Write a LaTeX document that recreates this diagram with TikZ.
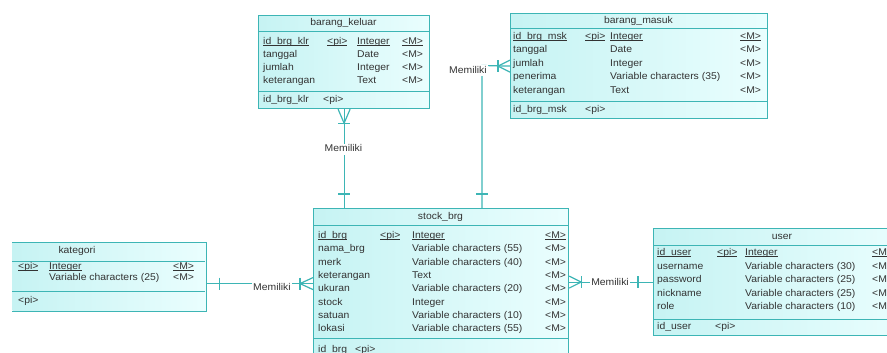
\documentclass[tikz,border=0pt]{standalone}
\usepackage{fontspec}
\setmainfont{Liberation Sans}[FakeStretch=1.06]
\definecolor{garis}{HTML}{3DB5B5}
\definecolor{isikiri}{HTML}{C6F3F3}
\definecolor{isikanan}{HTML}{EAFEFE}
\definecolor{tulisan}{HTML}{333333}
\newcommand{\gb}[1]{\setbox0\hbox{#1}\rlap{\rule[-1.3pt]{\wd0}{0.5pt}}\box0}
\tikzset{
  tabel/.style={draw=garis, line width=1.2pt, left color=isikiri, right color=isikanan, anchor=north west, inner sep=0pt},
  sekat/.style={draw=garis, line width=1pt},
  hub/.style={draw=garis, line width=1.2pt},
  isi/.style={anchor=west, inner sep=0pt, text height=7pt, text depth=2pt, text=tulisan, font=\fontsize{9.8}{11}\selectfont},
  judul/.style={isi, anchor=center},
  relasi/.style={judul, fill=white, inner sep=1pt}
}

\begin{document}
\begin{tikzpicture}[x=1pt, y=-1pt]
	\clip (0,0) rectangle (887,353);
	% tabel
	\node[tabel, minimum width=171pt, minimum height=93pt] (keluar) at (258,15) {};
	\node[tabel, minimum width=257pt, minimum height=105pt] (masuk) at (510,13) {};
	\node[tabel, minimum width=255pt, minimum height=160pt] (stok) at (313,208) {};
	\node[tabel, draw=none, minimum width=193pt, minimum height=68pt] (kat) at (12,242) {};
	\draw[sekat] (kat.north west) -- (kat.north east) -- (kat.south east) -- (kat.south west);
	\node[tabel, minimum width=258pt, minimum height=107pt] (user) at (653,228) {};
	% sekat
	\draw[sekat] (258,32) -- (429,32);
	\draw[sekat] (258,92) -- (429,92);
	\draw[sekat] (510,29) -- (767,29);
	\draw[sekat] (510,102) -- (767,102);
	\draw[sekat] (313,225) -- (568,225);
	\draw[sekat] (313,338) -- (568,338);
	\draw[sekat] (12,261) -- (205,261);
	\draw[sekat] (12,291) -- (205,291);
	\draw[sekat] (653,245.5) -- (911,245.5);
	\draw[sekat] (653,319) -- (911,319);

	% barang_keluar
	\node[judul] (kel-j) at (343.5,23) {barang\_keluar};
	\node[isi] (kel-pk) at (263,42) {\gb{id\_brg\_klr}};
	\node[isi] (kel-pi) at (327,42) {\gb{<pi>}};
	\node[isi] (kel-ti) at (357,42) {\gb{Integer}};
	\node[isi] (kel-m) at (402,42) {\gb{<M>}};
	\foreach \a/\b [count=\i] in {tanggal/Date, jumlah/Integer, keterangan/Text} {
		\node[isi] (kel-n\i) at (263,{42+13*\i}) {\a};
		\node[isi] (kel-t\i) at (357,{42+13*\i}) {\b};
		\node[isi] (kel-m\i) at (402,{42+13*\i}) {<M>};
	}
	\node[isi] (kel-k) at (263,100) {id\_brg\_klr};
	\node[isi] (kel-kp) at (323,100) {<pi>};

	% barang_masuk
	\node[judul] (msk-j) at (638.5,21) {barang\_masuk};
	\node[isi] (msk-pk) at (513,37) {\gb{id\_brg\_msk}};
	\node[isi] (msk-pi) at (585,37) {\gb{<pi>}};
	\node[isi] (msk-ti) at (610,37) {\gb{Integer}};
	\node[isi] (msk-m) at (740,37) {\gb{<M>}};
	\foreach \a/\b [count=\i] in {tanggal/Date, jumlah/Integer, penerima/Variable characters (35), keterangan/Text} {
		\node[isi] (msk-n\i) at (513,{37+13.5*\i}) {\a};
		\node[isi] (msk-t\i) at (610,{37+13.5*\i}) {\b};
		\node[isi] (msk-m\i) at (740,{37+13.5*\i}) {<M>};
	}
	\node[isi] (msk-k) at (513,110) {id\_brg\_msk};
	\node[isi] (msk-kp) at (585,110) {<pi>};

	% stock_brg
	\node[judul] (stk-j) at (440.5,217) {stock\_brg};
	\node[isi] (stk-pk) at (318,236) {\gb{id\_brg}};
	\node[isi] (stk-pi) at (380,236) {\gb{<pi>}};
	\node[isi] (stk-ti) at (412,236) {\gb{Integer}};
	\node[isi] (stk-m) at (545,236) {\gb{<M>}};
	\foreach \a/\b [count=\i] in {nama\_brg/Variable characters (55), merk/Variable characters (40), keterangan/Text, ukuran/Variable characters (20), stock/Integer, satuan/Variable characters (10), lokasi/Variable characters (55)} {
		\node[isi] (stk-n\i) at (318,{236+13.33*\i}) {\a};
		\node[isi] (stk-t\i) at (412,{236+13.33*\i}) {\b};
		\node[isi] (stk-m\i) at (545,{236+13.33*\i}) {<M>};
	}
	\node[isi] (stk-k) at (318,350) {id\_brg};
	\node[isi] (stk-kp) at (355,350) {<pi>};

	% kategori
	\node[judul] (kat-j) at (77,251) {kategori};
	\node[isi] (kat-pi) at (18,267) {\gb{<pi>}};
	\node[isi] (kat-ti) at (49,267) {\gb{Integer}};
	\node[isi] (kat-m) at (173,267) {\gb{<M>}};
	\node[isi] (kat-t1) at (49,278) {Variable characters (25)};
	\node[isi] (kat-m1) at (173,278) {<M>};
	\node[isi] (kat-kp) at (18,300.5) {<pi>};

	% user
	\node[judul] (usr-j) at (782,237) {user};
	\node[isi] (usr-pk) at (657,253) {\gb{id\_user}};
	\node[isi] (usr-pi) at (717,253) {\gb{<pi>}};
	\node[isi] (usr-ti) at (745,253) {\gb{Integer}};
	\node[isi] (usr-m) at (872,253) {\gb{<M>}};
	\foreach \a/\b [count=\i] in {username/Variable characters (30), password/Variable characters (25), nickname/Variable characters (25), role/Variable characters (10)} {
		\node[isi] (usr-n\i) at (657,{253+13.5*\i}) {\a};
		\node[isi] (usr-t\i) at (745,{253+13.5*\i}) {\b};
		\node[isi] (usr-m\i) at (872,{253+13.5*\i}) {<M>};
	}
	\node[isi] (usr-k) at (657,327) {id\_user};
	\node[isi] (usr-kp) at (715,327) {<pi>};

	% relasi barang_keluar - stock_brg
	\draw[hub] (keluar.south) -- (keluar.south |- stok.north);
	\draw[hub] (keluar.south) ++(-6,0) -- ++(6,14) -- ++(6,-14);
	\draw[hub] (keluar.south) ++(-6,14) -- ++(12,0);
	\draw[hub] (keluar.south |- stok.north) ++(-6,-14) -- ++(12,0);
	\node[relasi] (rel1) at (343.5,149) {Memiliki};

	% relasi barang_masuk - stock_brg
	\coordinate (tekuk) at (482,65.5);
	\draw[hub] (masuk.west) -- (tekuk) -- (tekuk |- stok.north);
	\draw[hub] (masuk.west) ++(0,-6) -- ++(-12,6) -- ++(12,6);
	\draw[hub] (masuk.west) ++(-12,-6) -- ++(0,12);
	\draw[hub] (tekuk |- stok.north) ++(-6,-14) -- ++(12,0);
	\node[relasi] (rel2) at (468,71) {Memiliki};

	% relasi kategori - stock_brg
	\draw[hub] ([yshift=-7pt]kat.east) coordinate (k1) -- (k1 -| stok.west) coordinate (k2);
	\draw[hub] (k1) ++(13,-6) -- ++(0,12);
	\draw[hub] (k2) ++(0,-6) -- ++(-13,6) -- ++(13,6);
	\draw[hub] (k2) ++(-13,-6) -- ++(0,12);
	\node[relasi] (rel3) at (272,288) {Memiliki};

	% relasi user - stock_brg
	\draw[hub] (user.west) -- (user.west -| stok.east) coordinate (u2);
	\draw[hub] (u2) ++(0,-6) -- ++(12,6) -- ++(-12,6);
	\draw[hub] (u2) ++(12,-6) -- ++(0,12);
	\draw[hub] (user.west) ++(-15,-6) -- ++(0,12);
	\node[relasi] (rel4) at (610,283) {Memiliki};
\end{tikzpicture}
\end{document}
